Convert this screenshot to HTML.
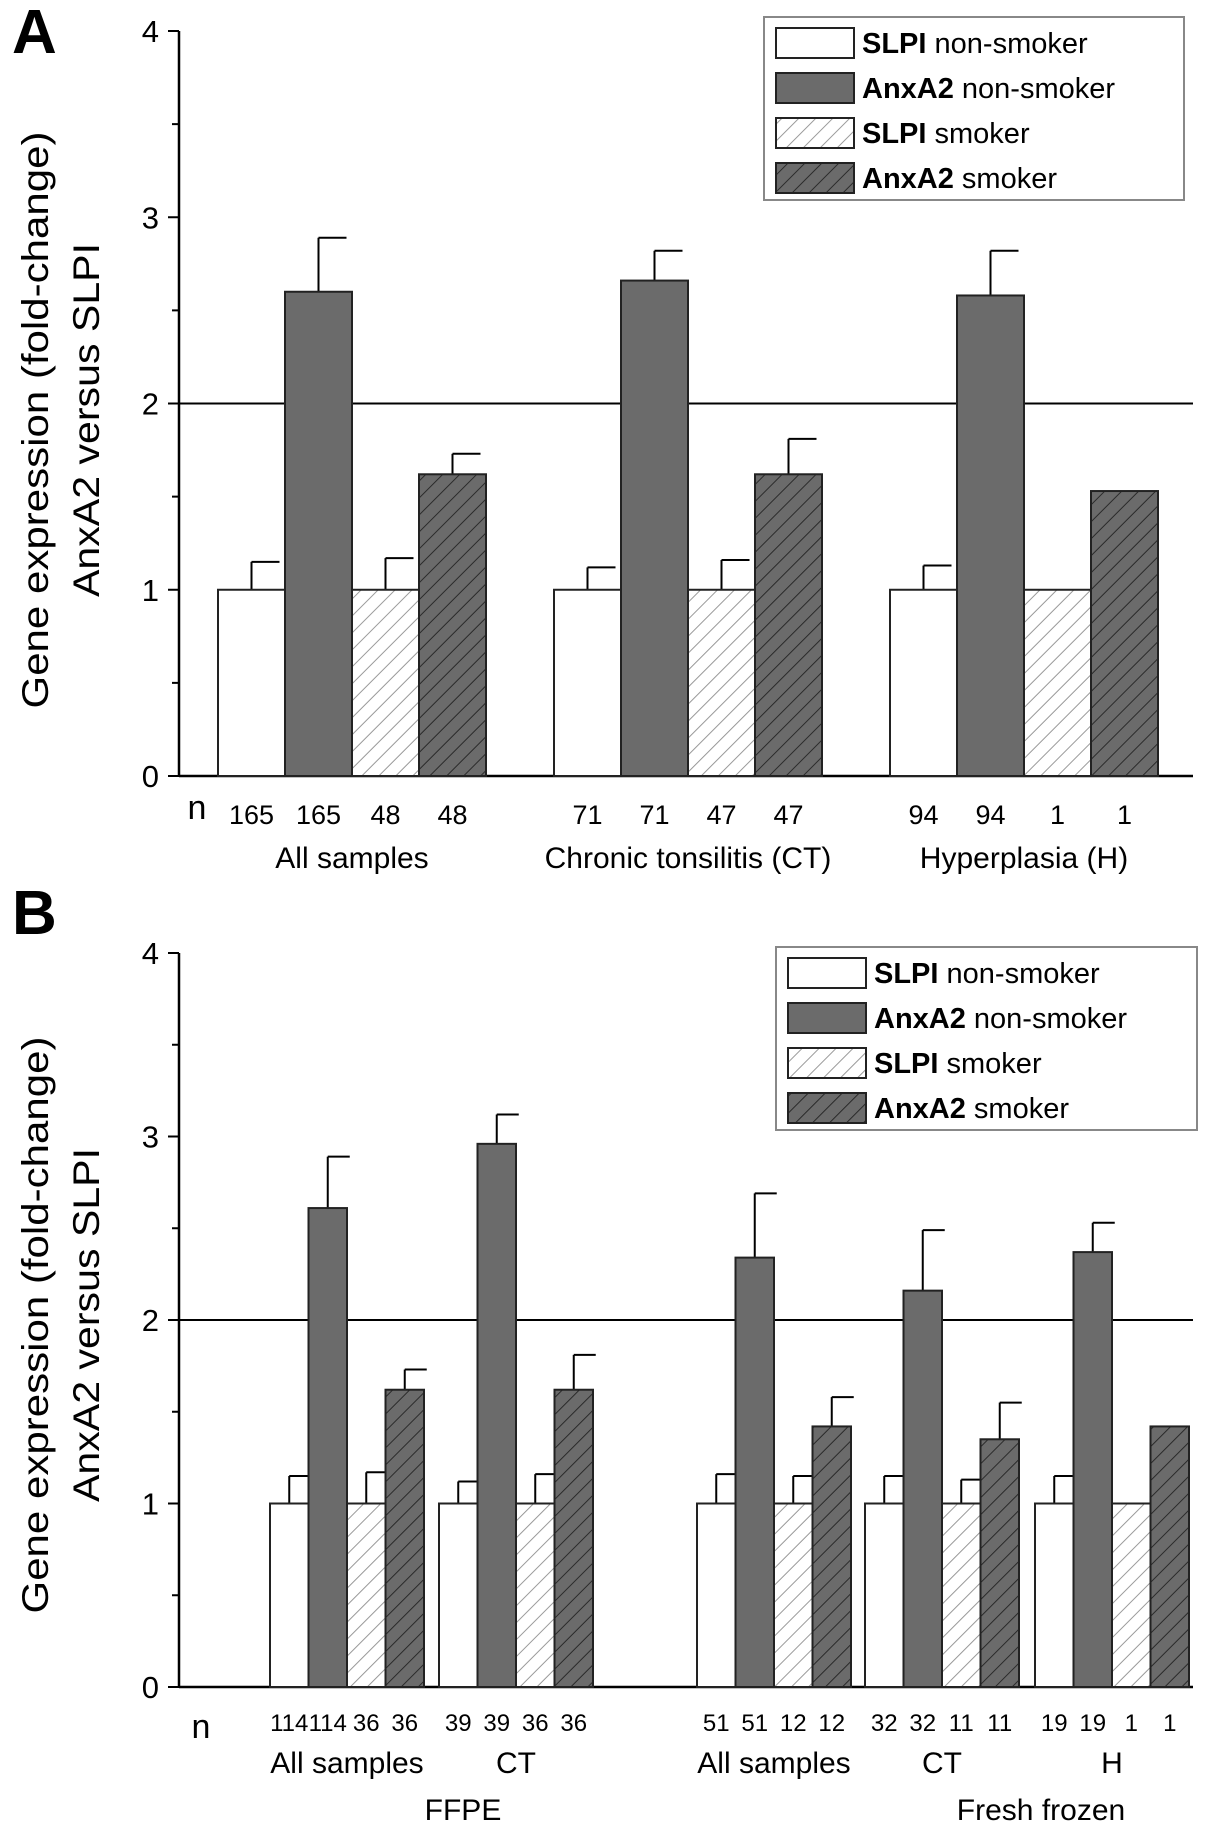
<!DOCTYPE html>
<html><head><meta charset="utf-8"><style>
html,body{margin:0;padding:0;background:#fff;}
svg{display:block;font-family:"Liberation Sans",Arial,sans-serif;}
</style></head><body>
<svg id="fig" width="1205" height="1835" viewBox="0 0 1205 1835" xmlns="http://www.w3.org/2000/svg">
<defs>
<pattern id="hatchLight" patternUnits="userSpaceOnUse" width="12" height="12" patternTransform="rotate(45)">
<rect width="12" height="12" fill="#fff"/><line x1="0" y1="0" x2="0" y2="12" stroke="#999" stroke-width="2"/></pattern>
<pattern id="hatchDark" patternUnits="userSpaceOnUse" width="12" height="12" patternTransform="rotate(45)">
<rect width="12" height="12" fill="#6b6b6b"/><line x1="0" y1="0" x2="0" y2="12" stroke="#2a2a2a" stroke-width="2"/></pattern>
</defs>
<text x="12" y="53" font-size="62" font-weight="bold">A</text>
<text x="12" y="934" font-size="62" font-weight="bold">B</text>
<g id="gA"></g><g id="gB"></g>
</svg>
<script>
// Panel A data
const catsA = ["All samples", "Chronic tonsilitis (CT)", "Hyperplasia (H)"];
const valsA = [[1, 2.6, 1, 1.62], [1, 2.66, 1, 1.62], [1, 2.58, 1, 1.53]];
const errsA = [[1.15, 2.89, 1.17, 1.73], [1.12, 2.82, 1.16, 1.81], [1.13, 2.82, null, null]];
const nA = [["165","165","48","48"], ["71","71","47","47"], ["94","94","1","1"]];
// Panel B data
const catsB = ["All samples", "CT", "All samples", "CT", "H"];
const valsB = [[1, 2.61, 1, 1.62], [1, 2.96, 1, 1.62], [1, 2.34, 1, 1.42], [1, 2.16, 1, 1.35], [1, 2.37, 1, 1.42]];
const errsB = [[1.15, 2.89, 1.17, 1.73], [1.12, 3.12, 1.16, 1.81], [1.16, 2.69, 1.15, 1.58], [1.15, 2.49, 1.13, 1.55], [1.15, 2.53, null, null]];
const nB = [["114","114","36","36"], ["39","39","36","36"], ["51","51","12","12"], ["32","32","11","11"], ["19","19","1","1"]];
const superB = ["FFPE", "Fresh frozen"];
const yTicks = [0, 1, 2, 3, 4];
const seriesNames = ["SLPI non-smoker", "AnxA2 non-smoker", "SLPI smoker", "AnxA2 smoker"];
const fills = ["#fff", "#6b6b6b", "url(#hatchLight)", "url(#hatchDark)"];
const NS = "http://www.w3.org/2000/svg";
function mk(parent, tag, attrs, txt) {
  const e = document.createElementNS(NS, tag);
  for (const k in attrs) e.setAttribute(k, attrs[k]);
  if (txt !== undefined) e.textContent = txt;
  parent.appendChild(e); return e;
}
function panel(g, o) {
  const y = v => o.y0 - (o.y0 - o.y4) * v / 4;
  const ax = mk(g, "line", {x1: o.axX, y1: y(0), x2: o.axR, y2: y(0), stroke: "#000", "stroke-width": 2.5});
  
  
  const ay = mk(g, "line", {x1: o.axX, y1: y(0), x2: o.axX, y2: y(4), stroke: "#000", "stroke-width": 2.5});
  
  
  for (let v = 0; v <= 4; v += 0.5) {
    const major = Number.isInteger(v);
    mk(g, "line", {x1: o.axX - (major ? 11 : 7), y1: y(v), x2: o.axX, y2: y(v), stroke: "#000", "stroke-width": 2});
  }
  yTicks.forEach(t => {
    const tl = mk(g, "text", {x: o.axX - 20, y: y(t) + 11, "font-size": 31, "text-anchor": "end"}, String(t));
    
    
  });
  const ref = mk(g, "line", {x1: o.axX, y1: y(2), x2: o.axR, y2: y(2), stroke: "#000", "stroke-width": 2});
  
  
  o.vals.forEach((grp, gi) => {
    grp.forEach((v, si) => {
      const x = o.starts[gi] + si * o.bw;
      const e = o.errs[gi][si];
      if (e !== null) {
        const cx = x + o.bw / 2;
        mk(g, "line", {x1: cx, y1: y(v), x2: cx, y2: y(e), stroke: "#000", "stroke-width": 2});
        const cap = mk(g, "line", {x1: cx, y1: y(e), x2: cx + o.cap, y2: y(e), stroke: "#000", "stroke-width": 2});
        
        
      }
      const r = mk(g, "rect", {x: x, y: y(v), width: o.bw, height: y(0) - y(v), fill: fills[si], stroke: "#222", "stroke-width": 2});
      
      
      const nl = mk(g, "text", {x: x + o.bw / 2, y: o.nY, "font-size": o.nFs, "text-anchor": "middle"}, o.n[gi][si]);
      
      
    });
    const cl = mk(g, "text", {x: o.starts[gi] + 2 * o.bw, y: o.catY, "font-size": 30, "text-anchor": "middle"}, o.cats[gi]);
    
    
  });
  const nn = mk(g, "text", {x: o.nX, y: o.nnY, "font-size": 34, "text-anchor": "middle"}, "n");
  
  
  // y title
  const t1 = mk(g, "text", {x: 0, y: 0, "font-size": 37, "text-anchor": "middle", textLength: 577, lengthAdjust: "spacingAndGlyphs", transform: `translate(48,${o.t1c}) rotate(-90)`}, "Gene expression (fold-change)");
  
  
  const t2 = mk(g, "text", {x: 0, y: 0, "font-size": 37, "text-anchor": "middle", textLength: 354, lengthAdjust: "spacingAndGlyphs", transform: `translate(99,${o.t2c}) rotate(-90)`}, "AnxA2 versus SLPI");
  
  
  // legend
  const L = o.leg;
  const lb = mk(g, "rect", {x: L.x, y: L.y, width: L.w, height: L.h, fill: "#fff", stroke: "#888", "stroke-width": 2});
  
  
  seriesNames.forEach((s, i) => {
    const cy = L.y + 26 + i * 45;
    const sw = mk(g, "rect", {x: L.x + 12, y: cy - 15, width: 78, height: 30, fill: fills[i], stroke: "#222", "stroke-width": 2});
    
    
    const parts = s.split(" ");
    const tx = mk(g, "text", {x: L.x + 98, y: cy + 10, "font-size": 29});
    
    
    mk(tx, "tspan", {"font-weight": "bold"}, parts[0]);
    mk(tx, "tspan", {}, " " + parts.slice(1).join(" "));
  });
}
panel(document.getElementById("gA"), {
  y0: 776, y4: 31, axX: 179, axR: 1193, bw: 67, cap: 28,
  starts: [218, 554, 890], vals: valsA, errs: errsA, n: nA, cats: catsA,
  nY: 824, nFs: 27, catY: 868, nX: 197, nnY: 819, t1c: 420, t2c: 420,
  leg: {x: 764, y: 17, w: 420, h: 183}
});
panel(document.getElementById("gB"), {
  y0: 1687, y4: 953, axX: 179, axR: 1193, bw: 38.5, cap: 22,
  starts: [270, 439, 697, 865, 1035], vals: valsB, errs: errsB, n: nB, cats: catsB,
  nY: 1731, nFs: 24, catY: 1773, nX: 201, nnY: 1738, t1c: 1325, t2c: 1325,
  leg: {x: 776, y: 947, w: 421, h: 183}
});
const gB = document.getElementById("gB");
[[463, superB[0]], [1041, superB[1]]].forEach(([x, t]) => {
  const s = mk(gB, "text", {x: x, y: 1820, "font-size": 30, "text-anchor": "middle"}, t);
  
  
});
</script>
</body></html>
